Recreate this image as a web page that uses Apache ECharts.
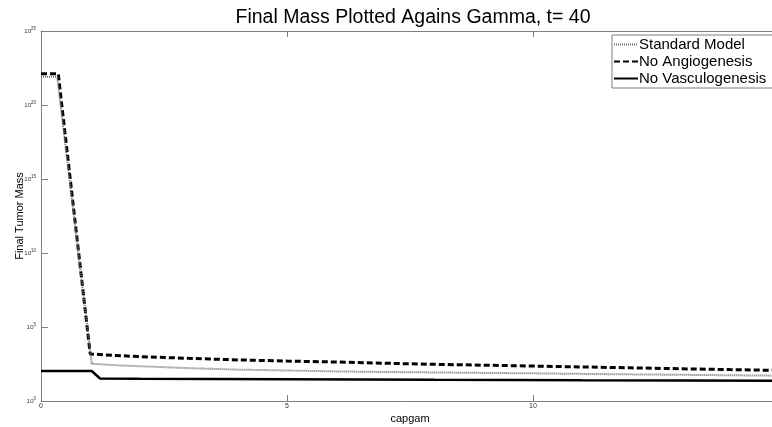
<!DOCTYPE html>
<html>
<head>
<meta charset="utf-8">
<script src="https://cdn.jsdelivr.net/npm/echarts@6/dist/echarts.min.js"></script>
<style>
  html, body { margin: 0; padding: 0; background: #fff; }
  #chart { width: 772px; height: 427px; }
</style>
</head>
<body>
<div id="chart"></div>
<script>
// final tumour mass vs capgam (log scale)
const stdX   = [0, 0.33, 1.03, 1.5, 2, 3, 4, 5, 6, 7, 8, 9, 10, 11, 12, 13, 14, 15];
const stdY   = [8e21, 8e21, 331, 263, 224, 166, 132, 115, 100, 91, 85, 79, 74, 68, 63, 59, 55, 51];
const angioX = [0, 0.35, 1.0, 1.5, 2, 3, 4, 5, 6, 7, 8, 9, 10, 11, 12, 13, 14, 15];
const angioY = [1.3e22, 1.3e22, 1510, 1200, 1000, 760, 600, 500, 430, 355, 300, 263, 229, 200, 174, 151, 132, 117];
const vascX  = [0, 1.03, 1.2, 2, 5, 8, 11, 15];
const vascY  = [107, 107, 33, 32, 30, 27, 25, 23.5];
const xTicks = [0, 5, 10, 15];

const names = ["Standard Model", "No Angiogenesis", "No Vasculogenesis"];
const pairs = (xs, ys) => xs.map((x, i) => [x, ys[i]]);
const FONT = "Liberation Sans, Arial, sans-serif";
const AXIS = "#7f7f7f";

const chart = echarts.init(document.getElementById("chart"), null, { renderer: "canvas" });

chart.setOption({
  animation: false,
  backgroundColor: "#fff",
  title: {
    text: "Final Mass Plotted Agains Gamma, t= 40",
    left: 408, top: 3, textAlign: "center",
    textStyle: { fontFamily: FONT, fontSize: 19.5, fontWeight: "normal", color: "#000" },
  },
  legend: {
    orient: "vertical", left: 612, top: 35,
    itemWidth: 24, itemHeight: 14, itemGap: 2,
    padding: [2, 8, 2, 1],
    borderColor: "#7f7f7f", borderWidth: 1, backgroundColor: "#fff",
    itemStyle: { opacity: 0 },
    textStyle: { fontFamily: FONT, fontSize: 15, color: "#000", padding: [0, 0, 0, -4] },
    data: names,
  },
  grid: { left: 41, top: 31, width: 738, bottom: 26, outerBoundsMode: "none", containLabel: false },
  xAxis: [{
    type: "value", min: 0, max: 15, interval: 5,
    name: "capgam", nameLocation: "middle", nameGap: 12, nameMoveOverlap: false,
    nameTextStyle: { fontFamily: FONT, fontSize: 11, color: "#000" },
    axisLine: { lineStyle: { color: AXIS } },
    axisTick: { inside: true, length: 6, lineStyle: { color: AXIS } },
    axisLabel: { fontFamily: FONT, fontSize: 7, color: "#333", margin: 2,
                 formatter: (v) => xTicks.indexOf(v) >= 0 ? String(v) : "" },
    splitLine: { show: false },
  }, {
    type: "value", position: "top", min: 0, max: 15, interval: 5,
    axisLine: { show: true, lineStyle: { color: AXIS } },
    axisTick: { inside: true, length: 6, lineStyle: { color: AXIS } },
    axisLabel: { show: false }, splitLine: { show: false },
  }],
  yAxis: {
    type: "log", logBase: 10, min: 1, max: 1e25, interval: 5,
    name: "Final Tumor Mass", nameLocation: "middle", nameGap: 16, nameMoveOverlap: false,
    nameTextStyle: { fontFamily: FONT, fontSize: 11, color: "#000" },
    axisLine: { show: true, lineStyle: { color: AXIS } },
    axisTick: { show: true, inside: true, length: 7, lineStyle: { color: AXIS } },
    axisLabel: {
      margin: 5,
      formatter: (v) => "{b|10}{s|" + Math.round(Math.log10(v)) + "}",
      rich: {
        b: { fontFamily: FONT, fontSize: 6, color: "#333" },
        s: { fontFamily: FONT, fontSize: 4.5, color: "#333", padding: [0, 0, 5, 0] },
      },
    },
    splitLine: { show: false },
  },
  series: [
    { name: names[0], type: "line", data: pairs(stdX, stdY), symbol: "none", z: 3,
      lineStyle: { color: "#6e6e6e", width: 2, type: [1, 1] },
      itemStyle: { color: "#6e6e6e" } },
    { name: names[1], type: "line", data: pairs(angioX, angioY), symbol: "none", z: 2,
      lineStyle: { color: "#000", width: 3, type: [6, 3] },
      itemStyle: { color: "#000" } },
    { name: names[2], type: "line", data: pairs(vascX, vascY), symbol: "none", z: 4,
      lineStyle: { color: "#000", width: 2.5 },
      itemStyle: { color: "#000" } },
  ],
});
</script>
</body>
</html>
